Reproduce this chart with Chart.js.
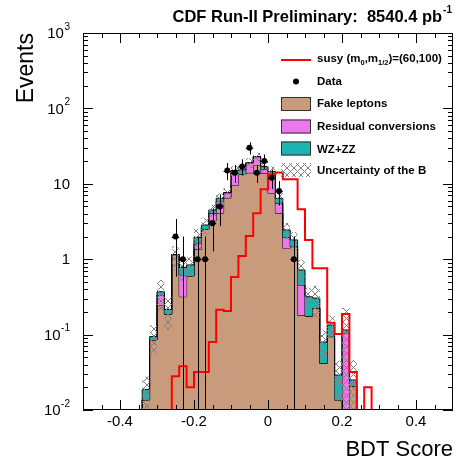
<!DOCTYPE html>
<html>
<head>
<meta charset="utf-8">
<script src="https://cdn.jsdelivr.net/npm/chart.js@4.4.1/dist/chart.umd.min.js"></script>
<style>
  html, body { margin: 0; padding: 0; background: #fff; }
  canvas { display: block; }
</style>
</head>
<body>
<canvas id="c" width="459" height="469"></canvas>
<script>
// binning of the BDT score histogram
const binLow = -0.5, binWidth = 0.02;
const yMin = 0.01, yMax = 1000;

// background stack (events per bin), bins from -0.5 to 0.5
const fakeLeptons = [
  0, 0, 0, 0, 0, 0, 0, 0, 0.0136, 0.085,
  0.247, 0.186, 1.15, 0.318, 0.60, 1.35, 2.49, 3.24, 4.06, 6.48,
  9.5, 13.4, 14.0, 17.8, 13.8, 7.5, 4.06, 1.39, 1.47, 0.18,
  0.176, 0.225, 0.0416, 0.094, 0.0136, 0.005, 0.0208, 0, 0, 0,
  0, 0, 0, 0, 0, 0, 0, 0, 0, 0
];
const residualConversions = [
  0, 0, 0, 0, 0, 0, 0, 0, 0, 0,
  0.088, 0, 0, 0.30, 0, 0.28, 0, 0.82, 1.73, 1.14,
  4.6, 0, 5.0, 5.1, 1.8, 5.6, 1.45, 0.56, 0, 0.275,
  0, 0, 0, 0, 0, 0.10, 0, 0, 0, 0,
  0, 0, 0, 0, 0, 0, 0, 0, 0, 0
];
const wzZZ = [
  0, 0, 0, 0, 0, 0, 0, 0, 0.0052, 0.009,
  0.035, 0.03, 0, 0.16, 0.24, 0.32, 0.35, 0.43, 0.63, 0,
  0.9, 1.9, 0, 0, 1.3, 1.4, 0.9, 0.49, 0.33, 0.265,
  0.142, 0.08, 0.038, 0.04, 0.0154, 0.01, 0.0042, 0, 0, 0,
  0, 0, 0, 0, 0, 0, 0, 0, 0, 0
];
// +/- uncertainty on the total background
const bkgUncertainty = [
  0, 0, 0, 0, 0, 0, 0, 0, 0.009, 0.04,
  0.16, 0.1, 0.35, 0.26, 0.25, 0.6, 0.7, 0.8, 1.1, 1.2,
  2.2, 2.2, 2.8, 3.0, 2.8, 2.5, 1.2, 0.6, 0.5, 0.26,
  0.1, 0.14, 0.035, 0.045, 0.016, 0.11, 0.021, 0, 0, 0,
  0, 0, 0, 0, 0, 0, 0, 0, 0, 0
];
const susySignal = [
  0, 0, 0, 0, 0, 0, 0, 0, 0, 0,
  0, 0, 0.028, 0.038, 0.02, 0.032, 0.032, 0.08, 0.214, 0.206,
  0.58, 1.10, 2.03, 4.06, 8.45, 13.3, 14.1, 11.5, 11.5, 4.59,
  1.8, 0.757, 0.757, 0.144, 0.102, 0.188, 0.032, 0, 0.02, 0,
  0, 0, 0, 0, 0, 0, 0, 0, 0, 0
];
const dataCounts = [
  0, 0, 0, 0, 0, 0, 0, 0, 0, 0,
  0, 0, 2, 1, 0, 1, 1, 3, 5, 15,
  14, 17, 30, 14, 20, 12, 8, 0, 1, 0,
  0, 0, 0, 0, 0, 0, 0, 0, 0, 0,
  0, 0, 0, 0, 0, 0, 0, 0, 0, 0
];

const xTickValues = [-0.4, -0.2, 0, 0.2, 0.4];
const xTickLabels = ['-0.4', '-0.2', '0', '0.2', '0.4'];
const yTickValues = [0.01, 0.1, 1, 10, 100, 1000];
const yTickLabels = [['10', '-2'], ['10', '-1'], ['1', ''], ['10', ''], ['10', '2'], ['10', '3']];

const FONT = '"Liberation Sans", Arial, Helvetica, sans-serif';
const cFake = '#c89b7d', cConv = '#ee77ee', cWZ = '#1ab4b1', cSusy = '#ff0000';

Chart.defaults.font.family = FONT;
Chart.defaults.color = '#000';

// grey cross hatch used for the background uncertainty
const hatch = (() => {
  const s = 7;
  const c = document.createElement('canvas');
  c.width = s; c.height = s;
  const g = c.getContext('2d');
  g.strokeStyle = '#808080';
  g.lineWidth = 1;
  g.beginPath();
  g.moveTo(0, 0); g.lineTo(s, s);
  g.moveTo(s, 0); g.lineTo(0, s);
  g.stroke();
  return g.createPattern(c, 'repeat');
})();

// left bin edges + closing point, for stepped lines
function stepPoints(values) {
  const pts = values.map((v, i) => ({ x: binLow + i * binWidth, y: Math.max(v, yMin) }));
  pts.push({ x: binLow + values.length * binWidth, y: Math.max(values[values.length - 1], yMin) });
  return pts;
}

const stackConv = fakeLeptons.map((v, i) => v + residualConversions[i]);
const stackTotal = stackConv.map((v, i) => v + wzZZ[i]);
const bandUp = stackTotal.map((v, i) => v + bkgUncertainty[i]);
const bandLow = stackTotal.map((v, i) => v - bkgUncertainty[i]);
const dataPoints = dataCounts
  .map((n, i) => (n > 0 ? { x: binLow + (i + 0.5) * binWidth, y: n } : null))
  .filter(Boolean);

const histLine = { stepped: true, pointRadius: 0, borderWidth: 1, borderColor: '#000', borderJoinStyle: 'miter' };

// frame with ROOT style inner ticks
const framePlugin = {
  id: 'frame',
  afterDatasetsDraw(chart) {
    const { ctx, chartArea: a, scales: { x, y } } = chart;
    ctx.save();
    ctx.strokeStyle = '#000';
    ctx.lineWidth = 1;
    ctx.strokeRect(a.left + 0.5, a.top + 0.5, a.right - a.left - 1, a.bottom - a.top - 1);
    ctx.beginPath();
    for (let k = -9; k <= 9; k++) {
      const px = Math.round(x.getPixelForValue(k * 0.05)) + 0.5;
      const len = k % 4 === 0 ? 10 : 5;
      ctx.moveTo(px, a.bottom); ctx.lineTo(px, a.bottom - len);
      ctx.moveTo(px, a.top); ctx.lineTo(px, a.top + len);
    }
    for (let d = -2; d < 3; d++) {
      for (let m = 1; m <= 9; m++) {
        const py = Math.round(y.getPixelForValue(m * Math.pow(10, d))) + 0.5;
        const len = m === 1 ? 10 : 5;
        ctx.moveTo(a.left, py); ctx.lineTo(a.left + len, py);
        ctx.moveTo(a.right, py); ctx.lineTo(a.right - len, py);
      }
    }
    ctx.stroke();

    // data error bars
    ctx.beginPath();
    dataCounts.forEach((n, i) => {
      if (!n) return;
      const e = Math.sqrt(n);
      const xc = Math.round(x.getPixelForValue(binLow + (i + 0.5) * binWidth)) + 0.5;
      const x0 = x.getPixelForValue(binLow + i * binWidth);
      const x1 = x.getPixelForValue(binLow + (i + 1) * binWidth);
      const yc = Math.round(y.getPixelForValue(n)) + 0.5;
      const yUp = y.getPixelForValue(n + e);
      const yLo = n - e > yMin ? y.getPixelForValue(n - e) : a.bottom;
      ctx.moveTo(xc, yUp); ctx.lineTo(xc, yLo);
      ctx.moveTo(x0, yc); ctx.lineTo(x1, yc);
    });
    ctx.stroke();
    ctx.restore();
  }
};

function drawRich(ctx, parts, x, y) {
  parts.forEach(([t, size, dy]) => {
    ctx.font = `bold ${size}px ${FONT}`;
    ctx.fillText(t, x, y + dy);
    x += ctx.measureText(t).width;
  });
}

const textPlugin = {
  id: 'texts',
  afterDraw(chart) {
    const { ctx, scales: { y } } = chart;
    ctx.save();
    ctx.fillStyle = '#000';

    // y tick labels as 10^n
    ctx.textAlign = 'left';
    ctx.textBaseline = 'middle';
    yTickValues.forEach((v, i) => {
      const [base, exp] = yTickLabels[i];
      const py = y.getPixelForValue(v);
      ctx.font = `15px ${FONT}`;
      const wb = ctx.measureText(base).width;
      ctx.font = `10px ${FONT}`;
      const we = exp ? ctx.measureText(exp).width + 0.5 : 0;
      const x0 = 70 - wb - we;
      ctx.font = `15px ${FONT}`;
      ctx.fillText(base, x0, py + 1);
      if (exp) {
        ctx.font = `10px ${FONT}`;
        ctx.fillText(exp, x0 + wb + 0.5, py - 6);
      }
    });

    // title
    ctx.textBaseline = 'alphabetic';
    const mainTitle = 'CDF Run-II Preliminary:  8540.4 pb';
    ctx.font = `bold 10px ${FONT}`;
    const ws = ctx.measureText('-1').width;
    ctx.font = `bold 16.5px ${FONT}`;
    const wm = ctx.measureText(mainTitle).width;
    ctx.fillText(mainTitle, 452 - ws - wm - 1, 22);
    ctx.font = `bold 10px ${FONT}`;
    ctx.fillText('-1', 452 - ws, 13);

    // legend
    const lx = 281, lw = 30, tx = 317;
    ctx.strokeStyle = cSusy;
    ctx.lineWidth = 2;
    ctx.beginPath(); ctx.moveTo(lx, 60); ctx.lineTo(lx + lw, 60); ctx.stroke();
    ctx.fillStyle = '#000';
    ctx.beginPath(); ctx.arc(296, 81.5, 3, 0, Math.PI * 2); ctx.fill();
    const boxes = [[cFake, 97], [cConv, 119.5], [cWZ, 141.5]];
    ctx.lineWidth = 1;
    ctx.strokeStyle = '#333';
    boxes.forEach(([col, by]) => {
      ctx.fillStyle = col;
      ctx.fillRect(lx, by, lw, 14);
      ctx.strokeRect(lx + 0.5, by + 0.5, lw - 1, 13);
    });
    ctx.fillStyle = hatch;
    ctx.fillRect(lx, 163, lw, 14);

    ctx.fillStyle = '#000';
    ctx.textBaseline = 'middle';
    drawRich(ctx, [['susy (m', 11.5, 0], ['0', 7.5, 4], [',m', 11.5, 0], ['1/2', 7.5, 4], [')=(60,100)', 11.5, 0]], tx, 58.5);
    ctx.font = `bold 11.5px ${FONT}`;
    ctx.fillText('Data', tx, 81.5);
    ctx.fillText('Fake leptons', tx, 104);
    ctx.fillText('Residual conversions', tx, 127);
    ctx.fillText('WZ+ZZ', tx, 149.5);
    ctx.fillText('Uncertainty of the B', tx, 170.5);
    ctx.restore();
  }
};

new Chart(document.getElementById('c'), {
  type: 'line',
  data: {
    datasets: [
      { ...histLine, label: 'Fake leptons', data: stepPoints(fakeLeptons), backgroundColor: cFake, fill: 'start', order: 6 },
      { ...histLine, label: 'Residual conversions', data: stepPoints(stackConv), backgroundColor: cConv, fill: '-1', order: 5 },
      { ...histLine, label: 'WZ+ZZ', data: stepPoints(stackTotal), backgroundColor: cWZ, fill: '-1', order: 4 },
      { ...histLine, label: 'Uncertainty of the B', data: stepPoints(bandUp), borderWidth: 0, backgroundColor: hatch, fill: '+1', order: 3 },
      { ...histLine, label: 'band low', data: stepPoints(bandLow), borderWidth: 0, fill: false, order: 3 },
      { ...histLine, label: 'susy', data: stepPoints(susySignal), borderColor: cSusy, borderWidth: 2, fill: false, order: 1 },
      { label: 'Data', data: dataPoints, showLine: false, pointRadius: 3, pointBorderWidth: 0, pointBackgroundColor: '#000', order: 0 }
    ]
  },
  options: {
    responsive: false,
    animation: false,
    events: [],
    layout: { padding: { top: 33, right: 6, left: 0, bottom: 0 } },
    plugins: { legend: { display: false }, tooltip: { enabled: false } },
    scales: {
      x: {
        type: 'linear', min: -0.5, max: 0.5,
        grid: { display: false, drawTicks: false },
        border: { display: false },
        afterBuildTicks: s => { s.ticks = xTickValues.map(v => ({ value: v })); },
        afterFit: s => { s.height = 59; },
        ticks: { padding: 3, maxRotation: 0, autoSkip: false, font: { size: 15 }, color: '#000',
                 callback: (v, i) => xTickLabels[i] },
        title: { display: true, text: 'BDT Score', align: 'end', font: { size: 22 }, color: '#000', padding: { top: 0, bottom: 6 } }
      },
      y: {
        type: 'logarithmic', min: yMin, max: yMax,
        grid: { display: false, drawTicks: false },
        border: { display: false },
        ticks: { display: false },
        afterFit: s => { s.width = 83; },
        title: { display: true, text: 'Events', align: 'end', font: { size: 23 }, color: '#000', padding: { top: 13, bottom: 0 } }
      }
    }
  },
  plugins: [framePlugin, textPlugin]
});
</script>
</body>
</html>
